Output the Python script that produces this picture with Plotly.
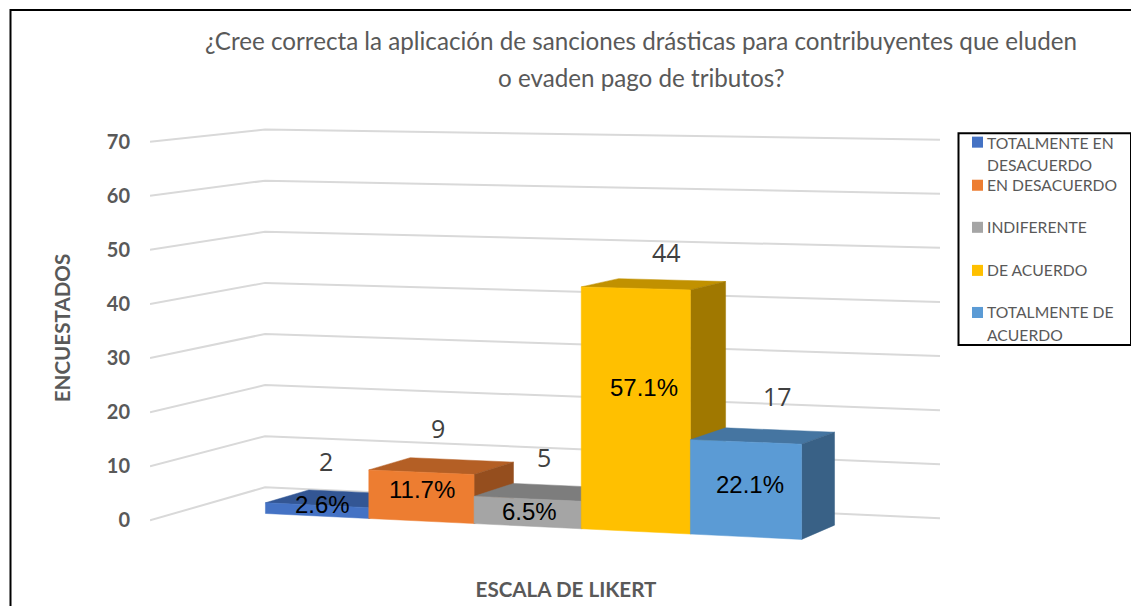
import plotly.graph_objects as go

# values
CATEGORIES = ["TOTALMENTE EN DESACUERDO", "EN DESACUERDO", "INDIFERENTE", "DE ACUERDO", "TOTALMENTE DE ACUERDO"]
LEGEND_TEXT = ["TOTALMENTE EN<br>DESACUERDO", "EN DESACUERDO", "INDIFERENTE", "DE ACUERDO", "TOTALMENTE DE<br>ACUERDO"]
COUNTS = [2, 9, 5, 44, 17]
PERCENTS = ["2.6%", "11.7%", "6.5%", "57.1%", "22.1%"]
Y_TICKS = [0, 10, 20, 30, 40, 50, 60, 70]
COLORS = ["#4472C4", "#ED7D31", "#A5A5A5", "#FFC000", "#5B9BD5"]

TITLE_1 = "¿Cree correcta la aplicación de sanciones drásticas para contribuyentes que eluden"
TITLE_2 = "o evaden pago de tributos?"

W, H = 1131, 606
# plot area, in pixels
LEFT, RIGHT, TOP, BOTTOM = 150, 982, 114.4, 541.6
ZERO_PX = 520      # pixel row of value 0 on the front-left wall edge
PX_PER_UNIT = 5.4  # pixels per respondent on that same edge

# 3D look: the floor is a plane seen in perspective
SPAN = 6.515       # floor width, in bars
FIRST_BAR = 0.77   # gap before the first bar, in bars
DEPTH_FRONT, DEPTH_BACK = 0.31, 0.7
PERSP = 0.0588
X_ALONG, X_DEEP = 659.4, 130.6
Y_ALONG, Y_DEEP = 2.4, -4.4

TOP_SHADE, SIDE_SHADE = 0.76, 0.63
# small moves of the labels, as placed by hand in the original
COUNT_NUDGE = [(-12, -38), (-3, -38), (-2, -35), (13, -32), (15, -40)]
PCT_NUDGE = [(6, -6), (1, -7), (2, -1), (8, -22), (4, -5)]


def project(cat, depth, value):
    """Bar position + depth + value -> x (pixels) and y (respondents) on the axes."""
    along = cat / SPAN
    w = 1 + PERSP * (depth - along)
    x = (LEFT + X_ALONG * along + X_DEEP * depth) / w
    row = (ZERO_PX + Y_ALONG * along + Y_DEEP * depth - PX_PER_UNIT * value) / w
    return x, (ZERO_PX - row) / PX_PER_UNIT


def shade(color, factor):
    r, g, b = int(color[1:3], 16), int(color[3:5], 16), int(color[5:7], 16)
    return "rgb(%d,%d,%d)" % (r * factor, g * factor, b * factor)


def add_poly(fig, corners, color, name):
    pts = [project(*c) for c in corners]
    xs = [p[0] for p in pts] + [pts[0][0]]
    ys = [p[1] for p in pts] + [pts[0][1]]
    fig.add_trace(go.Scatter(
        x=xs, y=ys, mode="lines", fill="toself", fillcolor=color,
        line=dict(color=color, width=0.5), name=name, hoverinfo="name", showlegend=False,
    ))


def paper_x(px):
    return (px - LEFT) / (RIGHT - LEFT)


def paper_y(px):
    return (BOTTOM - px) / (BOTTOM - TOP)


fig = go.Figure()

# gridlines on the left wall and the back wall
for tick in Y_TICKS:
    pts = [project(0, 0, tick), project(0, 1, tick), project(SPAN, 1, tick)]
    fig.add_trace(go.Scatter(
        x=[p[0] for p in pts], y=[p[1] for p in pts], mode="lines",
        line=dict(color="#D9D9D9", width=2), hoverinfo="skip", showlegend=False,
    ))

annotations = []
for i, (cat, count, pct, color) in enumerate(zip(CATEGORIES, COUNTS, PERCENTS, COLORS)):
    c0, c1 = FIRST_BAR + i, FIRST_BAR + i + 1
    add_poly(fig, [(c0, DEPTH_FRONT, count), (c1, DEPTH_FRONT, count),
                   (c1, DEPTH_BACK, count), (c0, DEPTH_BACK, count)], shade(color, TOP_SHADE), cat)
    add_poly(fig, [(c1, DEPTH_FRONT, 0), (c1, DEPTH_BACK, 0),
                   (c1, DEPTH_BACK, count), (c1, DEPTH_FRONT, count)], shade(color, SIDE_SHADE), cat)
    add_poly(fig, [(c0, DEPTH_FRONT, 0), (c1, DEPTH_FRONT, 0),
                   (c1, DEPTH_FRONT, count), (c0, DEPTH_FRONT, count)], color, cat)

    mid = (c0 + c1) / 2
    x, y = project(mid, 0.5, count)
    annotations.append(dict(
        x=x, y=y, xref="x", yref="y", text=str(count), showarrow=False,
        xshift=COUNT_NUDGE[i][0], yshift=-COUNT_NUDGE[i][1],
        font=dict(family="Open Sans", size=25, color="#404040"),
    ))
    x, y = project(mid, DEPTH_FRONT, count / 2)
    annotations.append(dict(
        x=x, y=y, xref="x", yref="y", text=pct, showarrow=False,
        xshift=PCT_NUDGE[i][0], yshift=-PCT_NUDGE[i][1],
        font=dict(family="Liberation Sans", size=24, color="#000000"),
    ))

# second title line sits further down than a <br> would put it
annotations.append(dict(
    x=paper_x(641), y=paper_y(77.5), xref="paper", yref="paper", text=TITLE_2, showarrow=False,
    yanchor="middle", font=dict(family="Lato", size=24.2, color="#595959"),
))

# legend box, drawn by hand because its rows overlap in the original
LEGEND_ROWS = [143, 185, 227, 270, 312]
SWATCH_ROWS = [142.5, 185.5, 227.5, 270.5, 312.5]
LEGEND_LINE_GAP = 22.5
shapes = [
    dict(type="rect", xref="paper", yref="paper", x0=paper_x(10.5), x1=paper_x(1160),
         y0=paper_y(10.5), y1=paper_y(640), line=dict(color="#000000", width=2)),
    dict(type="rect", xref="paper", yref="paper", x0=paper_x(958.5), x1=paper_x(1131),
         y0=paper_y(133.5), y1=paper_y(345), fillcolor="white", line=dict(color="#000000", width=2)),
]
for text, color, row, swatch in zip(LEGEND_TEXT, COLORS, LEGEND_ROWS, SWATCH_ROWS):
    shapes.append(dict(type="rect", xref="paper", yref="paper", x0=paper_x(972), x1=paper_x(983),
                       y0=paper_y(swatch - 5.5), y1=paper_y(swatch + 5.5), fillcolor=color, line_width=0))
    for n, line in enumerate(text.split("<br>")):
        annotations.append(dict(
            x=paper_x(984.5), y=paper_y(row + n * LEGEND_LINE_GAP), xref="paper", yref="paper",
            text=line, showarrow=False, xanchor="left", yanchor="middle",
            font=dict(family="Lato", size=15.7, color="#595959"),
        ))

fig.update_layout(
    width=W, height=H, paper_bgcolor="white", plot_bgcolor="white", showlegend=False,
    margin=dict(l=LEFT, r=W - RIGHT, t=TOP, b=H - BOTTOM, pad=0, autoexpand=False),
    title=dict(text=TITLE_1, x=641 / W, xanchor="center", y=1 - 42 / H, yanchor="middle",
               font=dict(family="Lato", size=24.2, color="#595959")),
    xaxis=dict(range=[LEFT, RIGHT], showgrid=False, zeroline=False, showline=False, showticklabels=False,
               ticks="", automargin=False,
               title=dict(text="ESCALA DE LIKERT", standoff=40,
                          font=dict(family="Lato", size=20.6, color="#595959", weight=700))),
    yaxis=dict(range=[(ZERO_PX - BOTTOM) / PX_PER_UNIT, (ZERO_PX - TOP) / PX_PER_UNIT],
               tickvals=Y_TICKS, showgrid=False, zeroline=False, showline=False, ticks="", automargin=False,
               ticklabelstandoff=19, tickfont=dict(family="Lato", size=20, color="#595959", weight=700),
               title=dict(text="ENCUESTADOS", standoff=30,
                          font=dict(family="Lato", size=20.6, color="#595959", weight=700))),
    annotations=annotations, shapes=shapes,
)

fig.write_html("out.html", config=dict(displayModeBar=False),
               post_script="document.body.style.margin='0';")
